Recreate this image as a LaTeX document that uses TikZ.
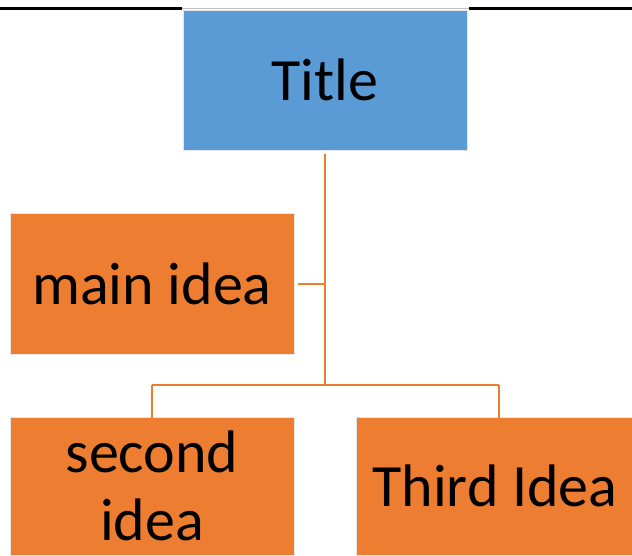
\documentclass[tikz,border=0pt]{standalone}
\usepackage{fontspec}
\setmainfont{Carlito}
\definecolor{tblue}{HTML}{5B9BD5}
\definecolor{torange}{HTML}{ED7D31}
\begin{document}
\begin{tikzpicture}[x=1pt,y=-1pt,
  box/.style={draw=white!90!black,line width=0.6pt,inner sep=0pt,align=center,
    font=\fontsize{60}{68}\selectfont},
  conn/.style={draw=torange,line width=2pt}]
\useasboundingbox (0,0) rectangle (632,555);
% top rule
\draw[black,line width=3pt] (0,8) -- (182,8);
\draw[black,line width=3pt] (469,8) -- (632,8);
\draw[gray!50,line width=1pt] (182,8) -- (469,8);
% boxes
\node[box,fill=tblue,minimum width=284pt,minimum height=140pt] (title) at (325,80) {Title};
\node[box,fill=torange,minimum width=284pt,minimum height=141pt] (main) at (152,284) {main idea};
\node[box,fill=torange,minimum width=284pt,minimum height=138pt] (second) at (152,486) {second\\idea};
\node[box,fill=torange,minimum width=277pt,minimum height=138pt] (third) at (495,486) {Third Idea};
% connectors
\coordinate (j1) at (325,284);
\coordinate (j2) at (325,385);
\coordinate (l) at (152,385);
\coordinate (r) at (499,385);
\draw[conn] ([yshift=-4pt]title.south) -- (j2);
\draw[conn] ([xshift=4pt]main.east) -- (j1);
\draw[conn] (l) -- (r);
\draw[conn] (l) -- ([yshift=-4pt]second.north);
\draw[conn] (r) -- ([yshift=-4pt]second.north -| r);
\end{tikzpicture}
\end{document}
